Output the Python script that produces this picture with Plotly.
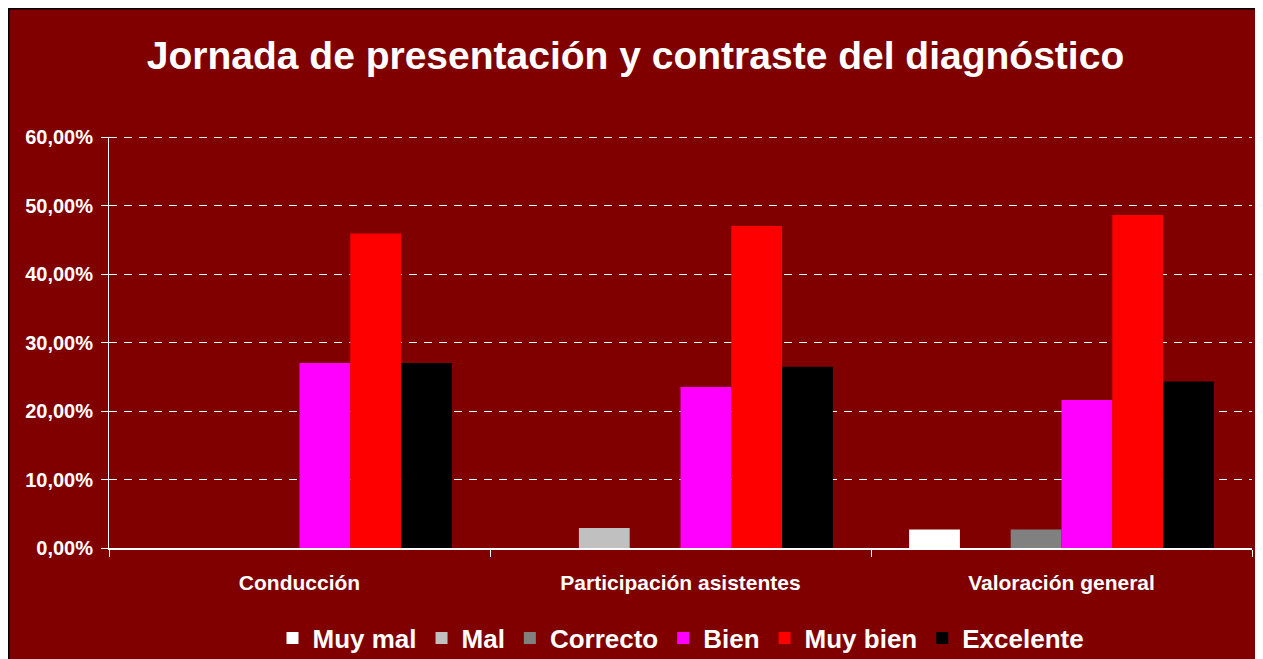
import plotly.graph_objects as go

categories = ["Conducción", "Participación asistentes", "Valoración general"]
series_names = ["Muy mal", "Mal", "Correcto", "Bien", "Muy bien", "Excelente"]
muy_mal = [0.0, 0.0, 0.0270]
mal = [0.0, 0.0294, 0.0]
correcto = [0.0, 0.0, 0.0270]
bien = [0.2703, 0.2353, 0.2162]
muy_bien = [0.4595, 0.4706, 0.4865]
excelente = [0.2703, 0.2647, 0.2432]
series_values = [muy_mal, mal, correcto, bien, muy_bien, excelente]
series_colors = ["#FFFFFF", "#C0C0C0", "#808080", "#FF00FF", "#FF0000", "#000000"]
y_ticks = [0, 0.1, 0.2, 0.3, 0.4, 0.5, 0.6]

FONT = "Arial, 'Liberation Sans', sans-serif"
BG = "#800000"

fig = go.Figure()
for name, vals, col in zip(series_names, series_values, series_colors):
    fig.add_trace(go.Bar(
        name=name, x=categories, y=vals,
        marker=dict(color=col, line=dict(width=0)),
        hovertemplate="%{x}<br>" + name + ": %{y:.2%}<extra></extra>",
    ))

W, H = 1255, 651
L, R, T, B = 101, 11, 129, 111
pw, ph = W - L - R, H - T - B

def px_x(p):
    return (p - L) / pw

def px_y(p):
    return (H - B - p) / ph

fig.add_shape(type="rect", xref="paper", yref="paper",
              x0=px_x(0.5), x1=px_x(1300), y0=px_y(700), y1=px_y(0.5),
              fillcolor=BG, line=dict(color="#000000", width=2), layer="below")

# top gridline at the upper end of the value axis
fig.add_shape(type="line", xref="paper", yref="y",
              x0=0, x1=1, y0=y_ticks[-1], y1=y_ticks[-1],
              line=dict(color="#FFFFFF", width=1, dash="8px,7px"), layer="below")

fig.update_layout(
    width=W, height=H,
    margin=dict(l=L, r=R, t=T, b=B, pad=0),
    paper_bgcolor="#FFFFFF",
    plot_bgcolor="rgba(0,0,0,0)",
    separators=",.",
    barmode="group",
    bargap=0.2,
    bargroupgap=0,
    font=dict(family=FONT, color="#FFFFFF"),
    title=dict(
        text="<b>Jornada de presentación y contraste del diagnóstico</b>",
        x=0.5, xanchor="center", xref="container",
        y=1 - 47 / H, yanchor="middle", yref="container",
        font=dict(family=FONT, size=39, color="#FFFFFF"),
    ),
    legend=dict(
        orientation="h", x=px_x(673), xanchor="center",
        y=1 - 630 / H, yanchor="middle", yref="container",
        font=dict(family=FONT, size=26, color="#FFFFFF", weight="bold"),
        bgcolor="rgba(0,0,0,0)",
    ),
    xaxis=dict(
        type="category",
        tickson="boundaries",
        ticks="outside", ticklen=7, tickcolor="#FFFFFF", tickwidth=1,
        showline=True, linecolor="#FFFFFF", linewidth=2,
        showgrid=False,
        tickfont=dict(family=FONT, size=21, color="#FFFFFF", weight="bold"),
        ticklabelstandoff=15,
    ),
    yaxis=dict(
        range=[0, 0.6006],
        tickvals=y_ticks,
        tickformat=".2%",
        ticks="outside", ticklen=7, tickcolor="#FFFFFF", tickwidth=1,
        showline=True, linecolor="#FFFFFF", linewidth=1,
        showgrid=True, gridcolor="#FFFFFF", gridwidth=1, griddash="8px,7px",
        zeroline=False,
        tickfont=dict(family=FONT, size=20, color="#FFFFFF", weight="bold"),
        ticklabelstandoff=4,
    ),
)

fig.write_html("out.html")
